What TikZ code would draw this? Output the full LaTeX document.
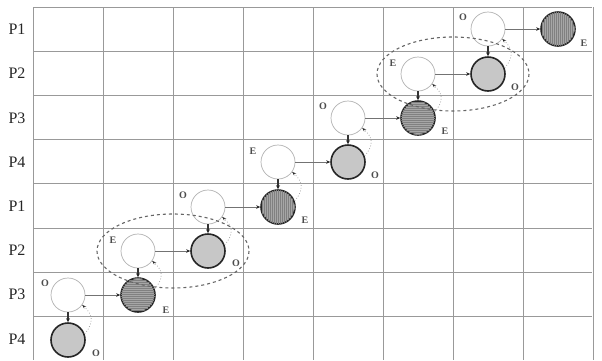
\documentclass[tikz,border=0pt]{standalone}
\usepackage{fontspec}
\setmainfont{Liberation Serif}
\usetikzlibrary{patterns.meta,arrows.meta,calc}
\definecolor{gridgray}{gray}{0.6}
\begin{document}
\begin{tikzpicture}[x=1pt,y=-1pt,
  cell/.style={draw=gridgray, line width=0.9pt},
  rowlab/.style={font=\fontsize{16}{18}\selectfont, text=black!85, inner sep=0pt},
  tag/.style={font=\fontsize{10}{12}\selectfont\bfseries, text=black!70, inner sep=0pt},
  open/.style={circle, minimum size=34pt, inner sep=0pt, draw=black!30, line width=0.7pt, fill=white},
  done/.style={circle, minimum size=34pt, inner sep=0pt, draw=black!85, line width=1.6pt, fill=black!22},
  hatchv/.style={done, fill=black!35, postaction={pattern={Lines[angle=90,distance=2pt,line width=0.45pt]}, pattern color=black!50}},
  hatchh/.style={done, fill=black!35, postaction={pattern={Lines[angle=0,distance=2pt,line width=0.45pt]}, pattern color=black!50}},
  harrow/.style={draw=black!55, line width=0.6pt, -{Stealth[length=4pt,width=3.5pt,color=black!85]}},
  varrow/.style={draw=black!80, line width=1.4pt, -{Stealth[length=4pt,width=4pt,color=black!85]}},
  ret/.style={draw=black!35, line width=0.8pt, dotted, -{Stealth[length=4pt,width=3pt,color=black!85]}},
  grp/.style={draw=black!60, line width=1.1pt, dash pattern=on 3pt off 3pt}
]
\useasboundingbox (0,0) rectangle (602,360);
% grid
\foreach \k in {0,...,7} \draw[cell] (33,7+44.2*\k) -- (592,7+44.2*\k);
\foreach \i in {0,...,8} \draw[cell] (33+70*\i,7) -- (33+70*\i,360);
% row labels
\node[rowlab] (l0) at (17,29) {P1};
\node[rowlab] (l1) at (17,73) {P2};
\node[rowlab] (l2) at (17,118) {P3};
\node[rowlab] (l3) at (17,162) {P4};
\node[rowlab] (l4) at (17,206) {P1};
\node[rowlab] (l5) at (17,250) {P2};
\node[rowlab] (l6) at (17,294) {P3};
\node[rowlab] (l7) at (17,339) {P4};
% circles
\node[open] (w0) at (488,29) {};
\node[hatchv] (f0) at (558,29) {};
\node[open] (w1) at (418,74) {};
\node[done] (f1) at (488,74) {};
\node[open] (w2) at (348,118) {};
\node[hatchh] (f2) at (418,118) {};
\node[open] (w3) at (278,162) {};
\node[done] (f3) at (348,162) {};
\node[open] (w4) at (208,207) {};
\node[hatchv] (f4) at (278,207) {};
\node[open] (w5) at (138,251) {};
\node[done] (f5) at (208,251) {};
\node[open] (w6) at (68,295) {};
\node[hatchh] (f6) at (138,295) {};
\node[done] (f7) at (68,340) {};
% tags
\node[tag] (tw0) at (463,17) {O};
\node[tag] (tf0) at (584,43) {E};
\node[tag] (tw1) at (393,63) {E};
\node[tag] (tf1) at (515,87) {O};
\node[tag] (tw2) at (323,106) {O};
\node[tag] (tf2) at (445,131) {E};
\node[tag] (tw3) at (253,151) {E};
\node[tag] (tf3) at (375,175) {O};
\node[tag] (tw4) at (183,195) {O};
\node[tag] (tf4) at (305,220) {E};
\node[tag] (tw5) at (113,240) {E};
\node[tag] (tf5) at (236,263) {O};
\node[tag] (tw6) at (45,283) {O};
\node[tag] (tf6) at (166,310) {E};
\node[tag] (tf7) at (96,353) {O};
% horizontal arrows
\foreach \r in {0,...,6} \draw[harrow] (w\r) -- (f\r);
% vertical arrows and return arcs
\foreach \r [evaluate=\r as \n using int(\r+1)] in {0,...,6} {
  \draw[varrow] (w\r) -- (f\n);
  \draw[ret] (f\n.20) .. controls +(10,-12) and +(10,9) .. (w\r.-35);
}
% groups
\draw[grp] ($(w1)!0.5!(f1)$) ellipse (76 and 37);
\draw[grp] ($(w5)!0.5!(f5)$) ellipse (76 and 37);
\end{tikzpicture}
\end{document}
